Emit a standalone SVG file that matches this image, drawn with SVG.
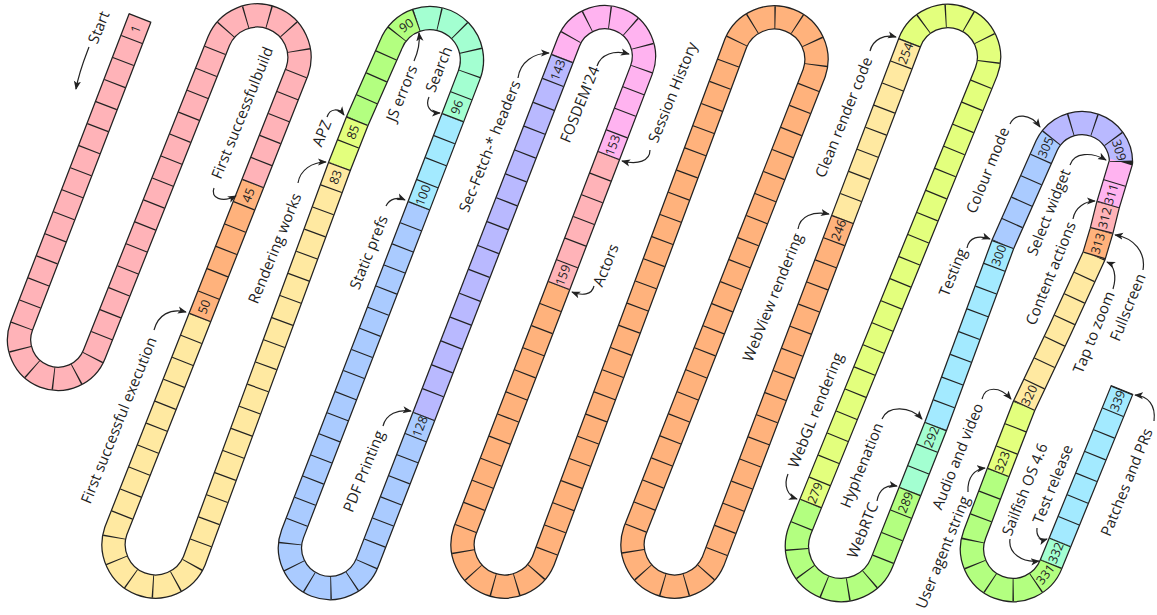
<svg xmlns="http://www.w3.org/2000/svg" width="1157" height="615" viewBox="0 0 1157 615">
<style>
.lbl{font-family:"Open Sans","Noto Sans","DejaVu Sans",sans-serif;font-size:15px;fill:#222;text-anchor:middle;dominant-baseline:central}
.num{font-family:"Open Sans","Noto Sans","DejaVu Sans",sans-serif;font-size:12.5px;fill:#222;text-anchor:middle;dominant-baseline:central}
.arr{fill:none;stroke:#222;stroke-width:1.2;marker-end:url(#ah)}
</style>
<defs>
<marker id="ah" viewBox="0 0 10 10" refX="9" refY="5" markerWidth="9" markerHeight="9" markerUnits="userSpaceOnUse" orient="auto"><path d="M0,1 L10,5 L0,9 L2.5,5 z" fill="#222"/></marker>
<path id="p1" pathLength="44" d="M140,18 L21.6,326 A39,39 0 0 0 94.4,354 L218.8,41 A42,42 0 0 1 297.2,71 L252.6,184"/>
<path id="p2" pathLength="6" d="M252.6,184 L199.7,318"/>
<path id="p3" pathLength="33" d="M199.7,318 L115.8,531 A42,42 0 0 0 194.2,561 L339.6,166"/>
<path id="p4" pathLength="2" d="M339.6,166 L357.4,120.7"/>
<path id="p5" pathLength="5" d="M357.4,120.7 L390.8,45 A42,42 0 0 1 416.9,20.1"/>
<path id="p6" pathLength="6" d="M416.9,20.1 A42,42 0 0 1 469.2,75 L452.6,118.2"/>
<path id="p7" pathLength="4" d="M452.6,118.2 L418.7,206.2"/>
<path id="p8" pathLength="28" d="M418.7,206.2 L292.6,533.7 A40,40 0 0 0 367.4,562.3 L424,416"/>
<path id="p9" pathLength="15" d="M424,416 L562.4,58"/>
<path id="p10" pathLength="10" d="M562.4,58 L568.6,42 A39,39 0 0 1 641.4,70 L608.5,156"/>
<path id="p11" pathLength="6" d="M608.5,156 L558.7,286"/>
<path id="p12" pathLength="87" d="M558.7,286 L464.8,531 A42,42 0 0 0 543.2,561 L735.8,43 A42,42 0 0 1 814.2,73 L634.8,531 A42,42 0 0 0 713.2,561 L842.7,219"/>
<path id="p13" pathLength="8" d="M842.7,219 L909.7,42.3"/>
<path id="p14" pathLength="25" d="M909.7,42.3 A41,41 0 0 1 986.3,71.7 L810.5,504"/>
<path id="p15" pathLength="10" d="M810.5,504 L799.9,530.2 A44,44 0 0 0 882.1,561.8 L910.1,491"/>
<path id="p16" pathLength="3" d="M910.1,491 L935.8,426"/>
<path id="p17" pathLength="8" d="M935.8,426 L1003,244"/>
<path id="p18" pathLength="5" d="M1003,244 L1046.65,145.5 A39,39 0 0 1 1051.7,137.5"/>
<path id="p19" pathLength="4" d="M1051.7,137.5 A39,39 0 0 1 1121,162"/>
<path id="p20" pathLength="2" d="M1121,162 L1108,205"/>
<path id="p21" pathLength="1" d="M1108,205 L1101.5,231"/>
<path id="p22" pathLength="1" d="M1101.5,231 L1094,256"/>
<path id="p23" pathLength="7" d="M1094,256 L1060,330 L1024,406"/>
<path id="p24" pathLength="3" d="M1024,406 L998,473"/>
<path id="p25" pathLength="8" d="M998,473 L974.7,534.3 A41,41 0 0 0 1051.3,563.7"/>
<path id="p26" pathLength="1" d="M1051.3,563.7 L1060.2,541.9"/>
<path id="p27" pathLength="7" d="M1060.2,541.9 L1122,390"/>
</defs>
<rect width="1157" height="615" fill="#ffffff"/>
<g id="track">
<path id="track-outline" fill="none" stroke="#222" stroke-width="24.5" stroke-linejoin="round" d="M140,18 L21.6,326 A39,39 0 0 0 94.4,354 L218.8,41 A42,42 0 0 1 297.2,71 L252.6,184 L199.7,318 L115.8,531 A42,42 0 0 0 194.2,561 L339.6,166 L357.4,120.7 L390.8,45 A42,42 0 0 1 416.9,20.1 A42,42 0 0 1 469.2,75 L452.6,118.2 L418.7,206.2 L292.6,533.7 A40,40 0 0 0 367.4,562.3 L424,416 L562.4,58 L568.6,42 A39,39 0 0 1 641.4,70 L608.5,156 L558.7,286 L464.8,531 A42,42 0 0 0 543.2,561 L735.8,43 A42,42 0 0 1 814.2,73 L634.8,531 A42,42 0 0 0 713.2,561 L842.7,219 L909.7,42.3 A41,41 0 0 1 986.3,71.7 L810.5,504 L799.9,530.2 A44,44 0 0 0 882.1,561.8 L910.1,491 L935.8,426 L1003,244 L1046.65,145.5 A39,39 0 0 1 1051.7,137.5 A39,39 0 0 1 1121,162 L1108,205 L1101.5,231 L1094,256 L1060,330 L1024,406 L998,473 L974.7,534.3 A41,41 0 0 0 1051.3,563.7 L1060.2,541.9 L1122,390"/>
<g id="track-fill" fill="none" stroke-width="22" stroke-linejoin="round">
<use href="#p1" stroke="#ffb3b8"/>
<use href="#p2" stroke="#ffb27c"/>
<use href="#p3" stroke="#ffe9a1"/>
<use href="#p4" stroke="#e3ff7d"/>
<use href="#p5" stroke="#b3ff80"/>
<use href="#p6" stroke="#a3ffd1"/>
<use href="#p7" stroke="#a3eaff"/>
<use href="#p8" stroke="#aacbff"/>
<use href="#p9" stroke="#b9b9ff"/>
<use href="#p10" stroke="#ffb3f0"/>
<use href="#p11" stroke="#ffb3b8"/>
<use href="#p12" stroke="#ffb27c"/>
<use href="#p13" stroke="#ffe9a1"/>
<use href="#p14" stroke="#e3ff7d"/>
<use href="#p15" stroke="#b3ff80"/>
<use href="#p16" stroke="#a3ffd1"/>
<use href="#p17" stroke="#a3eaff"/>
<use href="#p18" stroke="#aacbff"/>
<use href="#p19" stroke="#b9b9ff"/>
<use href="#p20" stroke="#ffb3f0"/>
<use href="#p21" stroke="#ffb3b8"/>
<use href="#p22" stroke="#ffb27c"/>
<use href="#p23" stroke="#ffe9a1"/>
<use href="#p24" stroke="#e3ff7d"/>
<use href="#p25" stroke="#b3ff80"/>
<use href="#p26" stroke="#a3ffd1"/>
<use href="#p27" stroke="#a3eaff"/>
</g>
<g id="track-cells" fill="none" stroke="#222" stroke-width="22.4" stroke-dasharray="0.05 0.95" stroke-dashoffset="0.05">
<use href="#p1"/><use href="#p2"/><use href="#p3"/><use href="#p4"/><use href="#p5"/><use href="#p6"/><use href="#p7"/><use href="#p8"/><use href="#p9"/><use href="#p10"/><use href="#p11"/><use href="#p12"/><use href="#p13"/><use href="#p14"/><use href="#p15"/><use href="#p16"/><use href="#p17"/><use href="#p18"/><use href="#p19"/><use href="#p20"/><use href="#p21"/><use href="#p22"/><use href="#p23"/><use href="#p24"/><use href="#p25"/><use href="#p26"/><use href="#p27"/>
</g>
<line x1="128.8" y1="13.7" x2="151.2" y2="22.3" stroke="#222" stroke-width="1.3"/>
<line x1="1110.9" y1="385.5" x2="1133.1" y2="394.5" stroke="#222" stroke-width="1.3"/>
</g>
<g id="cell-numbers">
<text class="num" transform="translate(135.7,29.1) rotate(-69)">1</text>
<text class="num" transform="translate(248.2,195.2) rotate(-69)">45</text>
<text class="num" transform="translate(204.1,306.8) rotate(-69)">50</text>
<text class="num" transform="translate(335.5,177.1) rotate(-70)">83</text>
<text class="num" transform="translate(352.9,132) rotate(-68.5)">85</text>
<text class="num" transform="translate(406.2,25.4) rotate(-34.6)">90</text>
<text class="num" transform="translate(456.8,107.2) rotate(-69)">96</text>
<text class="num" transform="translate(422.9,195.2) rotate(-69)">100</text>
<text class="num" transform="translate(419.9,426.5) rotate(-69)">128</text>
<text class="num" transform="translate(557.8,69.9) rotate(-69)">143</text>
<text class="num" transform="translate(612.6,145.2) rotate(-69)">153</text>
<text class="num" transform="translate(562.8,275.2) rotate(-69)">159</text>
<text class="num" transform="translate(838.5,230.1) rotate(-69.3)">246</text>
<text class="num" transform="translate(905.5,53.3) rotate(-69.3)">254</text>
<text class="num" transform="translate(815,493) rotate(-68)">279</text>
<text class="num" transform="translate(905.6,502.3) rotate(-68.4)">289</text>
<text class="num" transform="translate(931.5,436.8) rotate(-68.4)">292</text>
<text class="num" transform="translate(998.8,255.4) rotate(-69.7)">300</text>
<text class="num" transform="translate(1045.7,147.5) rotate(-66)">305</text>
<text class="num" transform="translate(1119.2,150.2) rotate(72.4)">309</text>
<text class="num" transform="translate(1111.2,194.3) rotate(-73)">311</text>
<text class="num" transform="translate(1104.8,218) rotate(-76)">312</text>
<text class="num" transform="translate(1097.8,243.5) rotate(-73)">313</text>
<text class="num" transform="translate(1029.1,395.3) rotate(-64.6)">320</text>
<text class="num" transform="translate(1002.3,461.8) rotate(-68.8)">323</text>
<text class="num" transform="translate(1045.3,574.2) rotate(-52)">331</text>
<text class="num" transform="translate(1055.8,552.8) rotate(-67.8)">332</text>
<text class="num" transform="translate(1117.6,400.8) rotate(-67.8)">339</text>
</g>
<g id="connectors">
<path class="arr" d="M89,47 C84,60 79,72 76,89"/>
<path class="arr" d="M214,188 C210,198 222,203 236,196"/>
<path class="arr" d="M154,330 C158,315 170,308 186,312"/>
<path class="arr" d="M298,183 C300,170 312,162 326,162"/>
<path class="arr" d="M327,117 C330,108 339,108 344,115"/>
<path class="arr" d="M414,61 C418,52 420,42 419,33"/>
<path class="arr" d="M429,97 C425,106 430,113 440,113"/>
<path class="arr" d="M386,206 C390,198 398,197 405,200"/>
<path class="arr" d="M383,426 C386,414 398,409 411,411"/>
<path class="arr" d="M518,78 C520,62 534,53 549,53"/>
<path class="arr" d="M597,66 C601,54 614,50 629,54"/>
<path class="arr" d="M650,150 C650,161 638,165 622,161"/>
<path class="arr" d="M594,286 C592,295 582,296 572,292"/>
<path class="arr" d="M798,229 C800,216 813,211 829,214"/>
<path class="arr" d="M870,51 C873,39 885,34 896,37"/>
<path class="arr" d="M788,474 C783,486 788,496 797,499"/>
<path class="arr" d="M882,419 C888,405 910,406 922,419"/>
<path class="arr" d="M877,501 C879,489 887,484 897,486"/>
<path class="arr" d="M967,248 C969,237 979,235 990,239"/>
<path class="arr" d="M1010,124 C1015,113 1030,113 1040,127"/>
<path class="arr" d="M1070,165 C1074,152 1092,152 1106,160"/>
<path class="arr" d="M1073,219 C1075,207 1086,201 1095,201"/>
<path class="arr" d="M1143,270 C1146,252 1134,238 1115,235"/>
<path class="arr" d="M1113,289 C1117,276 1114,265 1107,262"/>
<path class="arr" d="M982,399 C985,386 1000,386 1011,399"/>
<path class="arr" d="M968,492 C967,477 975,469 985,468"/>
<path class="arr" d="M1010,539 C1008,553 1022,563 1039,561"/>
<path class="arr" d="M1037,528 C1036,537 1041,541 1047,539"/>
<path class="arr" d="M1154,421 C1156,405 1148,396 1135,395"/>
</g>
<g id="milestones">
<g id="m-start"><text class="lbl" transform="translate(98,27) rotate(-68)">Start</text></g>
<g id="m-build"><text class="lbl" transform="translate(241.5,112.5) rotate(-68)">First successfulbuild</text></g>
<g id="m-exec"><text class="lbl" transform="translate(118,420) rotate(-68)">First successful execution</text></g>
<g id="m-render"><text class="lbl" transform="translate(274,248) rotate(-68)">Rendering works</text></g>
<g id="m-apz"><text class="lbl" transform="translate(321,133) rotate(-68)">APZ</text></g>
<g id="m-js"><text class="lbl" transform="translate(401,93) rotate(-68)">JS errors</text></g>
<g id="m-search"><text class="lbl" transform="translate(438,69) rotate(-68)">Search</text></g>
<g id="m-static"><text class="lbl" transform="translate(368,252) rotate(-68)">Static prefs</text></g>
<g id="m-pdf"><text class="lbl" transform="translate(363,471) rotate(-68)">PDF Printing</text></g>
<g id="m-secfetch"><text class="lbl" transform="translate(489,146) rotate(-68)">Sec-Fetch-* headers</text></g>
<g id="m-fosdem"><text class="lbl" transform="translate(579,104) rotate(-68)">FOSDEM'24</text></g>
<g id="m-session"><text class="lbl" transform="translate(672,92) rotate(-68)">Session History</text></g>
<g id="m-actors"><text class="lbl" transform="translate(605,265) rotate(-68)">Actors</text></g>
<g id="m-webview"><text class="lbl" transform="translate(772,297) rotate(-68)">WebView rendering</text></g>
<g id="m-clean"><text class="lbl" transform="translate(843,117) rotate(-68)">Clean render code</text></g>
<g id="m-webgl"><text class="lbl" transform="translate(815,410) rotate(-68)">WebGL rendering</text></g>
<g id="m-hyph"><text class="lbl" transform="translate(861,465) rotate(-68)">Hyphenation</text></g>
<g id="m-webrtc"><text class="lbl" transform="translate(862,530) rotate(-68)">WebRTC</text></g>
<g id="m-testing"><text class="lbl" transform="translate(952,272) rotate(-68)">Testing</text></g>
<g id="m-colour"><text class="lbl" transform="translate(987,170) rotate(-68)">Colour mode</text></g>
<g id="m-select"><text class="lbl" transform="translate(1048,212) rotate(-68)">Select widget</text></g>
<g id="m-content"><text class="lbl" transform="translate(1050,273) rotate(-68)">Content actions</text></g>
<g id="m-full"><text class="lbl" transform="translate(1127,307) rotate(-68)">Fullscreen</text></g>
<g id="m-tap"><text class="lbl" transform="translate(1093,332) rotate(-68)">Tap to zoom</text></g>
<g id="m-audio"><text class="lbl" transform="translate(957,456) rotate(-68)">Audio and video</text></g>
<g id="m-ua"><text class="lbl" transform="translate(942,552) rotate(-68)">User agent string</text></g>
<g id="m-sailfish"><text class="lbl" transform="translate(1024,489) rotate(-68)">Sailfish OS 4.6</text></g>
<g id="m-test"><text class="lbl" transform="translate(1052,484) rotate(-68)">Test release</text></g>
<g id="m-patches"><text class="lbl" transform="translate(1126,482) rotate(-68)">Patches and PRs</text></g>
</g>
</svg>
